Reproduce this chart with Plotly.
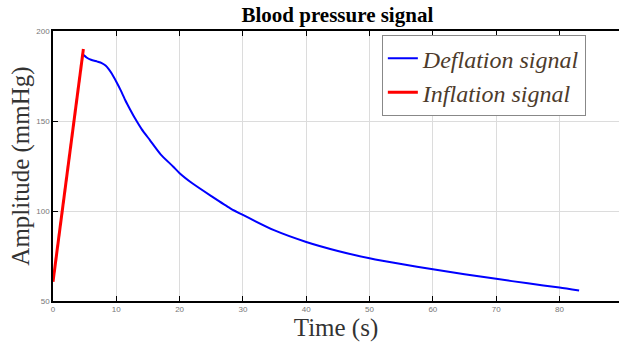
import plotly.graph_objects as go

# Inflation phase (red)
infl_t = [0.0, 1.47, 3.0, 4.8]
infl_p = [60.7, 100.0, 141.0, 190.0]

# Deflation phase (blue)
defl_t = [4.85, 5.3, 6.0, 7.0, 7.7, 8.3, 8.8, 9.3, 10.0, 10.7, 11.4, 12.2, 12.95, 14.0, 15.3,
          17.0, 19.0, 20.0, 22.0, 25.0, 28.0, 30.0, 35.0, 40.0, 45.0, 50.0, 55.0, 60.0, 65.0,
          70.0, 75.0, 80.0, 83.1]
defl_p = [186.7, 185.3, 184.0, 183.0, 182.2, 180.8, 178.8, 176.2, 171.8, 167.0, 161.7, 156.3,
          151.5, 145.5, 139.4, 131.5, 124.6, 121.0, 115.4, 108.3, 101.5, 97.8, 89.2, 82.8,
          77.8, 73.7, 70.5, 67.7, 64.9, 62.3, 59.8, 57.5, 55.8]

x_ticks = [0, 10, 20, 30, 40, 50, 60, 70, 80, 90]
y_ticks = [50, 100, 150, 200]

serif = "Liberation Serif, Times New Roman, serif"
sans = "Liberation Sans, Arial, sans-serif"

fig = go.Figure()
fig.add_trace(go.Scatter(x=defl_t, y=defl_p, mode="lines", name="<i>Deflation signal</i>",
                         line=dict(color="#0000ff", width=2, shape="spline", smoothing=0.6)))
fig.add_trace(go.Scatter(x=infl_t, y=infl_p, mode="lines", name="<i>Inflation signal</i>",
                         line=dict(color="#ff0000", width=3)))

fig.update_layout(
    width=619, height=344,
    margin=dict(l=53, r=0, t=31, b=43),
    paper_bgcolor="white", plot_bgcolor="white",
    title=dict(text="<b>Blood pressure signal</b>", x=0.545, xanchor="center",
               y=0.958, yanchor="middle",
               font=dict(family=serif, size=21, color="black")),
    showlegend=True,
    legend=dict(x=0.581, y=0.985, xanchor="left", yanchor="top",
                bgcolor="white", bordercolor="#888888", borderwidth=1,
                font=dict(family=serif, size=24, color="#4d3b2b"),
                tracegroupgap=0, itemwidth=30),
    xaxis=dict(range=[0, 89.4], tickvals=x_ticks, ticks="inside", ticklen=5,
               tickcolor="black", showline=True, linecolor="black", linewidth=1.5,
               mirror="ticks", showgrid=True, gridcolor="#dcdcdc", gridwidth=1,
               zeroline=False,
               tickfont=dict(family=sans, size=8, color="#777777"),
               title=dict(text="Time (s)", standoff=4,
                          font=dict(family=serif, size=25, color="#333333"))),
    yaxis=dict(range=[50, 200], tickvals=y_ticks, ticks="inside", ticklen=5,
               tickcolor="black", showline=True, linecolor="black", linewidth=1.5,
               mirror=False, showgrid=True, gridcolor="#dcdcdc", gridwidth=1,
               zeroline=False,
               tickfont=dict(family=sans, size=8, color="#777777"),
               title=dict(text="Amplitude (mmHg)", standoff=0,
                          font=dict(family=serif, size=25, color="#333333"))),
)

fig.write_html("out.html")
